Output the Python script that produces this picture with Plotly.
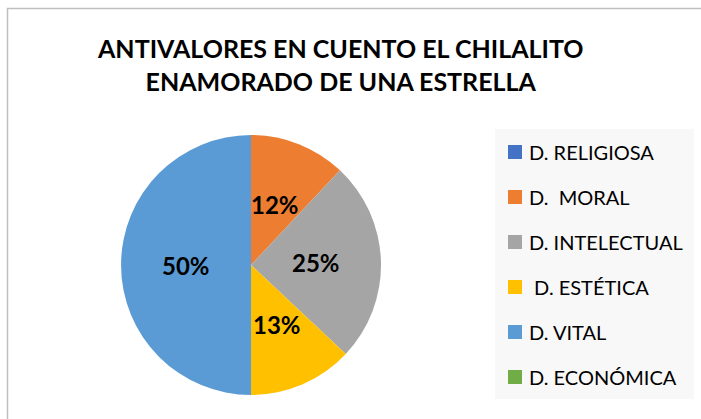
import math
import plotly.graph_objects as go

categories = ["D. RELIGIOSA", "D.  MORAL", "D. INTELECTUAL", " D. ESTÉTICA", "D. VITAL", "D. ECONÓMICA"]
values = [0, 12, 25, 13, 50, 0]
colors = ["#4472C4", "#ED7D31", "#A5A5A5", "#FFC000", "#5B9BD5", "#70AD47"]
title = "ANTIVALORES EN CUENTO EL CHILALITO<br>ENAMORADO DE UNA ESTRELLA"

W, H = 701, 419
CX, CY, R = 251, 265, 130  # pie placement in pixels
total = sum(values)

fig = go.Figure()
fig.add_trace(go.Pie(
    labels=categories,
    values=values,
    textinfo="none",
    marker=dict(colors=colors, line=dict(width=0)),
    sort=False,
    direction="clockwise",
    rotation=0,
    showlegend=False,
    hoverinfo="label+percent",
    domain=dict(x=[(CX - R) / W, (CX + R) / W], y=[(H - CY - R) / H, (H - CY + R) / H]),
))

shapes = [
    dict(type="rect", xref="paper", yref="paper", x0=7.5 / W, x1=1.02, y0=-0.02, y1=1 - 8.5 / H,
         line=dict(color="#BFBFBF", width=1.5), fillcolor="rgba(0,0,0,0)", layer="below"),
    dict(type="rect", xref="paper", yref="paper", x0=495 / W, x1=694 / W, y0=1 - 399 / H, y1=1 - 129 / H,
         line=dict(width=0), fillcolor="#F8F8F8", layer="below"),
]
annotations = [
    dict(text=f"<b>{title}</b>", xref="paper", yref="paper", x=340 / W, y=1 - 64 / H,
         xanchor="center", yanchor="middle", showarrow=False, align="center",
         font=dict(family="Lato", size=25, color="black")),
]

# data labels: percent at the middle angle of each slice, half radius
cum = 0.0
for v in values:
    if v > 0:
        mid = (cum + v / 2) / total * 2 * math.pi
        px = CX + 0.5 * R * math.sin(mid)
        py = CY - 0.5 * R * math.cos(mid)
        annotations.append(dict(text=f"<b>{round(v / total * 100)}%</b>", xref="paper", yref="paper",
                                x=px / W, y=1 - py / H, xanchor="center", yanchor="middle",
                                showarrow=False, font=dict(family="Lato", size=24, color="black")))
    cum += v

y0, step = 152, 45
for i, (cat, col) in enumerate(zip(categories, colors)):
    yc = y0 + i * step
    shapes.append(dict(type="rect", xref="paper", yref="paper",
                       x0=508 / W, x1=522 / W, y0=1 - (yc + 7) / H, y1=1 - (yc - 7) / H,
                       line=dict(width=0), fillcolor=col))
    annotations.append(dict(text=cat.replace(" ", "\u00a0"), xref="paper", yref="paper",
                            x=527 / W, y=1 - yc / H, xanchor="left", yanchor="middle",
                            showarrow=False, font=dict(family="Lato", size=20, color="black")))

fig.update_layout(
    width=W, height=H,
    margin=dict(l=0, r=0, t=0, b=0),
    paper_bgcolor="white",
    plot_bgcolor="white",
    shapes=shapes,
    annotations=annotations,
)

fig.write_html("out.html", config={"displayModeBar": False},
               post_script="document.body.style.margin='0';")
